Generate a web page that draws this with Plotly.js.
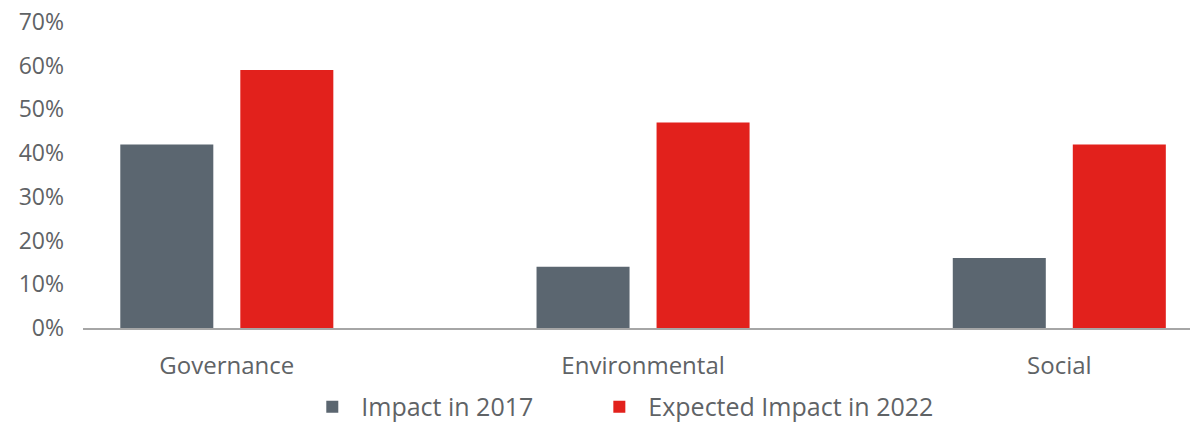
<!DOCTYPE html>
<html>
<head>
<meta charset="utf-8">
<script src="https://cdn.plot.ly/plotly-3.0.1.min.js"></script>
<style>html,body{margin:0;padding:0;background:#fff;}#chart{width:1190px;height:430px;}</style>
</head>
<body>
<div id="chart"></div>
<script>
const categories = ["Governance", "Environmental", "Social"];
const impact2017 = [0.42, 0.14, 0.16];
const expected2022 = [0.59, 0.47, 0.42];
const seriesNames = ["Impact in 2017", "Expected Impact in 2022"];
const yTickValues = [0, 0.1, 0.2, 0.3, 0.4, 0.5, 0.6, 0.7];

const textColor = "#5f6366";
const fontFamily = "'Open Sans', 'Noto Sans', sans-serif";

const traces = [
  {type: "bar", name: seriesNames[0], x: categories, y: impact2017,
   marker: {color: "#5b6670"}, hoverinfo: "x+y", legend: "legend"},
  {type: "bar", name: seriesNames[1], x: categories, y: expected2022,
   marker: {color: "#e2211c"}, hoverinfo: "x+y", legend: "legend2"}
];

const legendBase = {orientation: "h", xanchor: "left", y: -0.333, yanchor: "bottom",
                    font: {size: 25, color: textColor}, itemwidth: 48, bgcolor: "rgba(0,0,0,0)"};

const layout = {
  width: 1190, height: 430,
  margin: {l: 83, r: 0, t: 22, b: 102, autoexpand: false},
  paper_bgcolor: "#fff", plot_bgcolor: "#fff",
  barmode: "group", bargap: 0.4233, bargroupgap: 0.225,
  font: {family: fontFamily, color: textColor, size: 22},
  showlegend: true,
  legend: Object.assign({}, legendBase, {x: 0.199}),
  legend2: Object.assign({}, legendBase, {x: 0.4583}),
  xaxis: {type: "category", range: [-0.3455, 2.314], showgrid: false, zeroline: false,
          automargin: false,
          showline: true, linecolor: "#a6a6a6", linewidth: 2, ticks: "",
          ticklabelstandoff: 15, tickfont: {size: 24, color: textColor}, fixedrange: true},
  yaxis: {range: [0, 0.7], tickvals: yTickValues, tickformat: ".0%", showgrid: false,
          automargin: false,
          zeroline: false, showline: false, ticks: "", ticklabelstandoff: 18,
          tickfont: {size: 23, color: textColor}, fixedrange: true}
};

Plotly.newPlot("chart", traces, layout, {displayModeBar: false, staticPlot: true});
</script>
</body>
</html>
